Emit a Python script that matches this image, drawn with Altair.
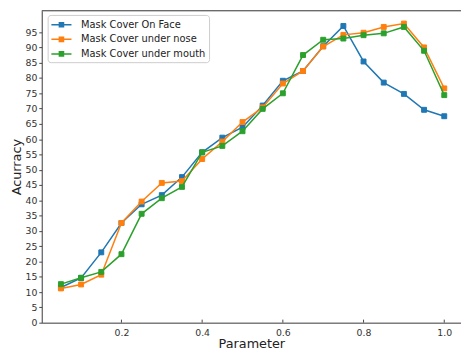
import altair as alt
import pandas as pd

x_vals = [0.05, 0.10, 0.15, 0.20, 0.25, 0.30, 0.35, 0.40, 0.45, 0.50,
          0.55, 0.60, 0.65, 0.70, 0.75, 0.80, 0.85, 0.90, 0.95, 1.00]
face = [11.5, 14.6, 23.0, 32.6, 38.7, 41.7, 47.6, 55.7, 60.5, 63.9,
        71.0, 79.1, 82.3, 90.4, 97.0, 85.4, 78.5, 74.8, 69.6, 67.5]
nose = [11.2, 12.5, 15.7, 32.6, 39.6, 45.7, 46.3, 53.5, 59.2, 65.6,
        70.4, 78.2, 82.3, 90.3, 94.1, 94.8, 96.7, 97.8, 90.0, 76.6]
mouth = [12.6, 14.7, 16.6, 22.4, 35.6, 40.7, 44.4, 55.7, 57.8, 62.6,
         69.9, 75.0, 87.5, 92.5, 92.9, 94.0, 94.6, 96.7, 88.9, 74.4]
series_names = ["\u00a0Mask Cover On Face", "Mask Cover under nose", "Mask Cover under mouth"]
colors = ["#1f77b4", "#ff7f0e", "#2ca02c"]
y_ticks = list(range(0, 100, 5))
x_ticks = [0.2, 0.4, 0.6, 0.8, 1.0]

FONT = "DejaVu Sans"
AX = "#444444"

xscale = alt.Scale(domain=[0.0025, 1.0415], nice=False, zero=False)
yscale = alt.Scale(domain=[0, 102], nice=False, zero=False)
cscale = alt.Scale(domain=series_names, range=colors)

xaxis = alt.Axis(values=x_ticks, format=".1f", title="Parameter", grid=False,
                 labelFont=FONT, labelFontSize=9.5, labelColor="#333", labelPadding=5,
                 ticks=False, domainColor=AX, labelFlush=False,
                 titleFont=FONT, titleFontSize=13, titleFontWeight="normal",
                 titleColor="#222", titlePadding=1)
yaxis = alt.Axis(values=y_ticks, title="Acurracy", grid=False,
                 labelFont=FONT, labelFontSize=9.5, labelColor="#333", labelPadding=2,
                 tickSize=3, tickColor=AX, domainColor=AX,
                 titleFont=FONT, titleFontSize=13, titleFontWeight="normal",
                 titleColor="#222", titlePadding=2)

# line with a filled square drawn by nested square outlines
sym = ("M-1.7,0H1.7"
       "M-0.35,-0.35H0.35V0.35H-0.35Z"
       "M-0.2,-0.2H0.2V0.2H-0.2Z"
       "M-0.06,-0.06H0.06V0.06H-0.06Z")

leg = alt.Legend(title=None, orient="none", legendX=6, legendY=4.3,
                 symbolType=sym, symbolSize=144, symbolStrokeWidth=1.5,
                 labelFont=FONT, labelFontSize=10, labelColor="#222",
                 padding=3, rowPadding=1.8, labelOffset=13, symbolOffset=4,
                 fillColor="white", strokeColor="#cccccc", cornerRadius=3,
                 labelLimit=300)

rows = []
for name, vals in zip(series_names, [face, nose, mouth]):
    for xv, yv in zip(x_vals, vals):
        rows.append({"x": xv, "acc": yv, "series": name})
df = pd.DataFrame(rows)

layers = []
for name in series_names:
    d = df[df["series"] == name]
    base = alt.Chart(d)
    line = base.mark_line(strokeWidth=1.5).encode(
        x=alt.X("x:Q", scale=xscale, axis=xaxis),
        y=alt.Y("acc:Q", scale=yscale, axis=yaxis),
        stroke=alt.Stroke("series:N", scale=cscale, legend=leg),
    )
    pts = base.mark_point(shape="square", filled=True, size=25, opacity=1, strokeWidth=1).encode(
        x=alt.X("x:Q", scale=xscale, axis=xaxis),
        y=alt.Y("acc:Q", scale=yscale, axis=yaxis),
        fill=alt.Fill("series:N", scale=cscale, legend=leg),
        stroke=alt.Stroke("series:N", scale=cscale, legend=leg),
    )
    layers += [line, pts]

# inward x ticks (matplotlib style), 1 data unit tall
tick_df = pd.DataFrame({"t": x_ticks, "y0": [0] * len(x_ticks), "y1": [1] * len(x_ticks)})
xt = alt.Chart(tick_df).mark_rule(color=AX, strokeWidth=1).encode(
    x=alt.X("t:Q", scale=xscale, axis=xaxis),
    y=alt.Y("y0:Q", scale=yscale, axis=yaxis),
    y2="y1:Q",
)

top = alt.Chart(pd.DataFrame({"v": [102]})).mark_rule(color=AX, strokeWidth=1).encode(
    y=alt.Y("v:Q", scale=yscale, axis=yaxis)
)

chart = alt.layer(*layers, xt, top).properties(
    width=426, height=317,
    autosize=alt.AutoSizeParams(type="none"),
    padding={"left": 34.3, "top": 0, "right": 0, "bottom": 25},
).configure_view(stroke=None).configure(background="white")

chart.save("out.html", embed_options={"renderer": "svg", "actions": False})
